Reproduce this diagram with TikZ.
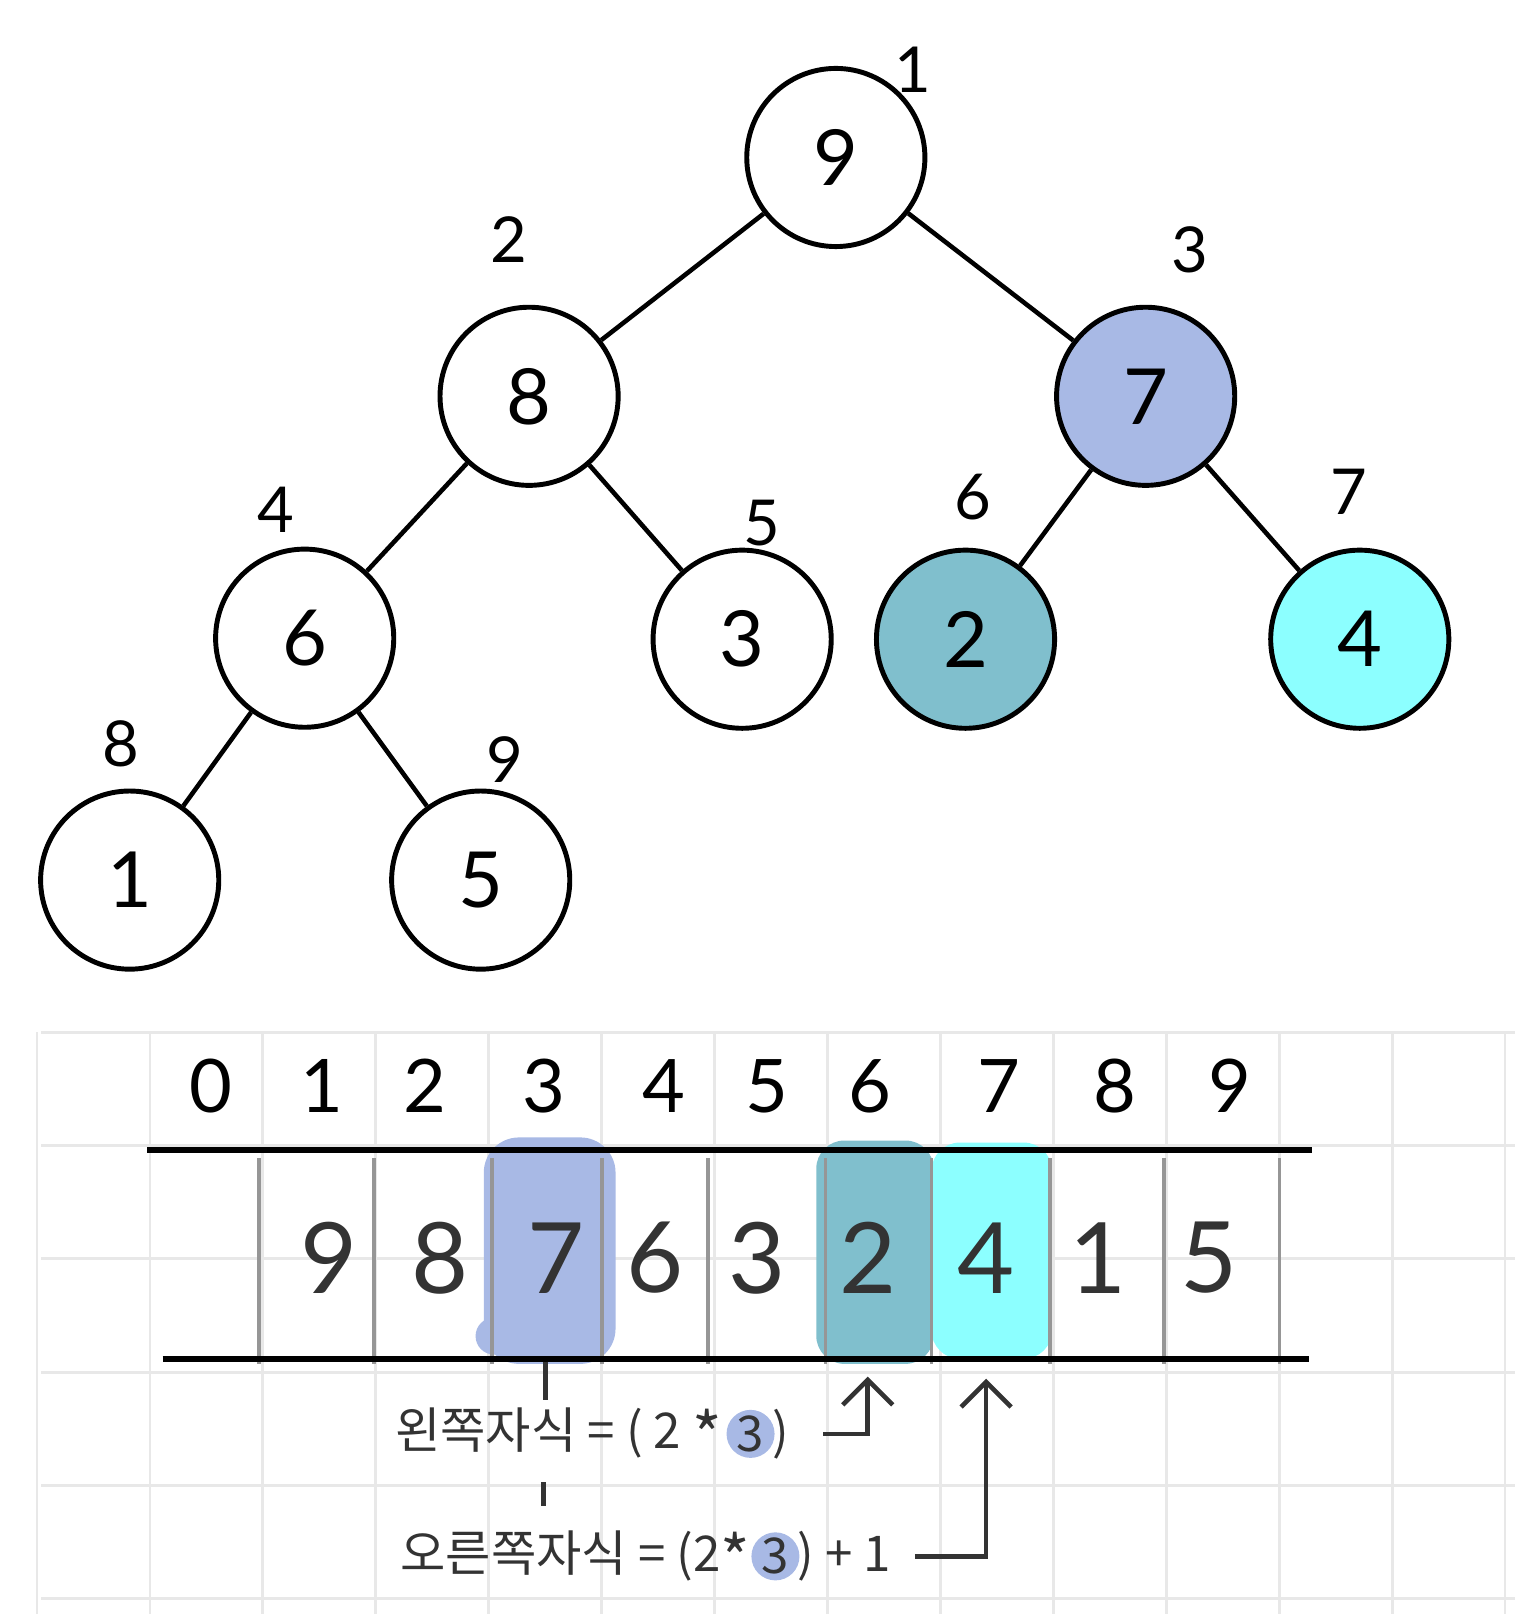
\documentclass[tikz,border=0pt]{standalone}
\usepackage{fontspec}
\setmainfont{Lato}
\newfontfamily\hangul{Noto Sans CJK KR}
\usetikzlibrary{arrows.meta,positioning}
\definecolor{hplavender}{RGB}{168,185,229}
\definecolor{hpteal}{RGB}{128,191,205}
\definecolor{hpcyan}{RGB}{140,255,255}
\definecolor{hpgrid}{RGB}{232,232,232}
\definecolor{hpdivider}{RGB}{150,150,150}
\definecolor{hpink}{RGB}{51,51,51}
\newcommand{\hpstar}{\raisebox{-0.4ex}{\fontsize{18}{18}\selectfont *}}

\begin{document}
\begin{tikzpicture}[x=0.010292cm, y=-0.010292cm,
  heapnode/.style={draw, circle, line width=1.4pt, minimum size=1.78cm,
    inner sep=0pt, font=\fontsize{22}{26}\selectfont},
  treeline/.style={line width=1.3pt},
  idxlabel/.style={inner sep=0pt, font=\fontsize{18}{21}\selectfont},
  cellnode/.style={minimum height=2.06cm, inner sep=0pt, text=hpink,
    font=\fontsize{28}{32}\selectfont},
  formula/.style={text=hpink, inner sep=1pt, font=\hangul\fontsize{14}{16}\selectfont},
  hlthree/.style={circle, fill=hplavender, inner sep=0pt, minimum size=0.48cm},
  harr/.style={-{Straight Barb[length=2.5mm, width=5mm]}, line width=1.3pt, hpink},
  tick/.style={line width=1.3pt, hpink}]
\useasboundingbox (0,0) rectangle (1472,1568);
% Grid paper
\foreach \k in {0,...,13}
  \draw[hpgrid, line width=0.8pt] (36+109.7*\k,1003) -- (36+109.7*\k,1568);
\foreach \k in {0,...,5}
  \draw[hpgrid, line width=0.8pt] (40,1003+110*\k) -- (1472,1003+110*\k);
% Heap tree
\node[heapnode] (n1) at (812,153) {9};
\node[heapnode] (n2) at (514,385) {8};
\node[heapnode, fill=hplavender] (n3) at (1113,385) {7};
\node[heapnode] (n4) at (296,620) {6};
\node[heapnode] (n5) at (721,621) {3};
\node[heapnode, fill=hpteal] (n6) at (938,621) {2};
\node[heapnode, fill=hpcyan] (n7) at (1321,621) {4};
\node[heapnode] (n8) at (126,855) {1};
\node[heapnode] (n9) at (467,855) {5};
\draw[treeline] (n1) -- (n2);
\draw[treeline] (n1) -- (n3);
\draw[treeline] (n2) -- (n4);
\draw[treeline] (n2) -- (n5);
\draw[treeline] (n3) -- (n6);
\draw[treeline] (n3) -- (n7);
\draw[treeline] (n4) -- (n8);
\draw[treeline] (n4) -- (n9);
% Tree indices
\foreach \x/\y/\d in {887/68/1, 494/233/2, 1156/243/3, 268/495/4, 740/508/5,
    945/483/6, 1310/478/7, 117/723/8, 490/738/9}
  \node[idxlabel] (t\d) at (\x,\y) {\d};
% Array highlights
\fill[hplavender, rounded corners=10pt] (470,1105) rectangle (598,1325);
\fill[hplavender] (480,1298) circle (18);
\fill[hpteal, rounded corners=8pt] (793,1108) rectangle (907,1325);
\fill[hpcyan, rounded corners=8pt] (905,1110) rectangle (1022,1320);
% Array
\foreach \x in {252,363,478,585,688,802,905,1020,1131,1243}
  \draw[hpdivider, line width=1.1pt] (\x,1125) -- (\x,1325);
\draw[line width=1.6pt] (143,1117) -- (1275,1117);
\draw[line width=1.6pt] (158,1320) -- (1272,1320);
\foreach \x/\d in {205/0, 313/1, 413/2, 528/3, 645/4, 745/5, 845/6, 970/7, 1083/8, 1195/9}
  \node[idxlabel, font=\fontsize{21}{25}\selectfont] (i\d) at (\x,1055) {\d};
\foreach \x/\v [count=\i] in {320/9, 428/8, 540/7, 636/6, 735/3, 843/2, 958/4, 1067/1, 1175/5}
  \node[cellnode] (c\i) at (\x,1222) {\v};
% Child formulas
\node[formula, anchor=west] (lformula) at (380,1393) {왼쪽자식 = ( 2 \hpstar};
\node[formula, hlthree, right=0pt of lformula] (lthree) {3};
\node[formula, right=-2pt of lthree] (lclose) {)};
\node[formula, anchor=west] (rformula) at (385,1512) {오른쪽자식 = (2\hpstar};
\node[formula, hlthree, right=-1pt of rformula] (rthree) {3};
\node[formula, right=-2pt of rthree] (rtail) {) + 1};
\draw[tick] (c3.south -| 530,0) -- (530,1360);
\draw[tick] (528,1440) -- (528,1463);
\draw[harr] ([xshift=0.3cm]lclose.east) -| ([yshift=-0.15cm]c6.south);
\draw[harr] ([xshift=0.2cm]rtail.east) -| ([yshift=-0.17cm]c7.south);
\end{tikzpicture}
\end{document}
